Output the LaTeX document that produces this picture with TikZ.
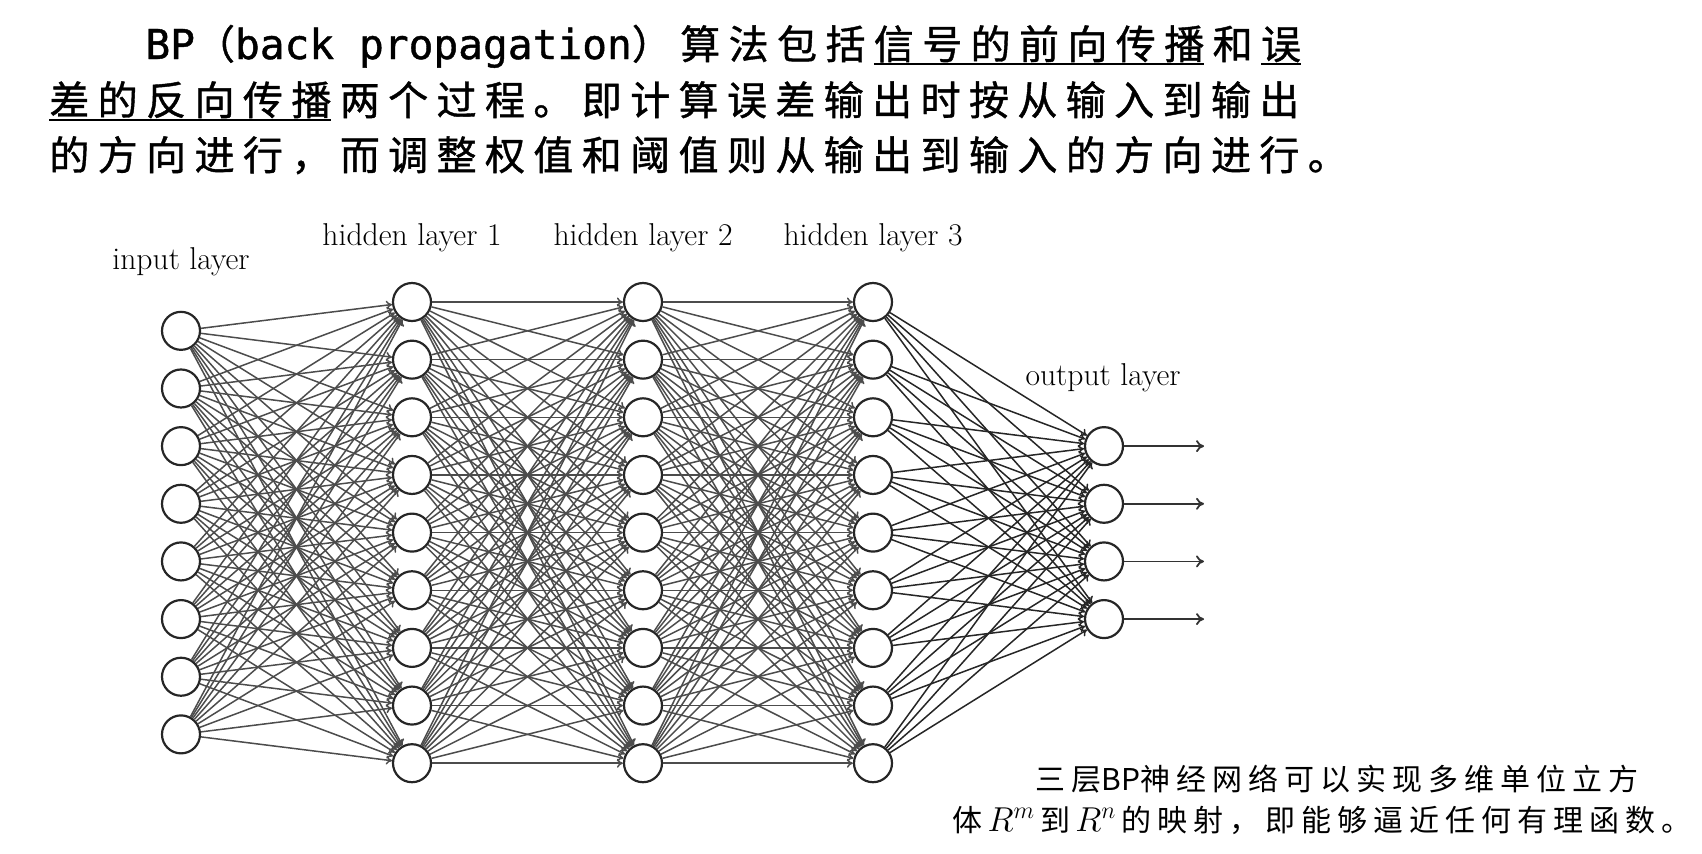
\documentclass[tikz,border=0pt]{standalone}
\usepackage{fontspec}
\usepackage{tikz}
\usetikzlibrary{arrows.meta}

\newfontfamily\zh[LetterSpace=21, FakeBold=1]{Noto Sans CJK SC}
\newfontfamily\zhcap[LetterSpace=20]{Noto Sans CJK SC}
\newfontfamily\zhlat{Noto Sans CJK SC}
\newfontfamily\lat[Scale=1.03, FakeBold=1]{DejaVu Sans Mono}
\newcommand\ulx[1]{\setbox0\hbox{#1}\rlap{\rule[-0.16em]{\wd0}{0.07em}}\box0\kern0.21em}
\newcommand\capmath[1]{\,\mbox{\fontsize{17pt}{20pt}\selectfont$#1$}\,}

\begin{document}
\begin{tikzpicture}[x=0.5pt, y=-0.5pt,
    neuron/.style={circle, draw=black!85, fill=white, line width=1.1pt, minimum size=19pt, inner sep=0pt},
    link/.style={-{To[length=3pt,width=4.5pt]}, draw=black!70, line width=0.75pt},
    layer label/.style={font=\fontsize{15.8pt}{19pt}\selectfont, anchor=base, inner sep=0pt},
    body text/.style={font=\zh\fontsize{20pt}{24pt}\selectfont, anchor=base west, inner sep=0pt},
    caption text/.style={font=\zhcap\fontsize{15pt}{18pt}\selectfont, anchor=base, inner sep=0pt}
]
    \useasboundingbox (0,0) rectangle (1702,853);

    % Texto
    \node[body text] (lineA) at (145, 59) {{\lat BP}（{\lat back propagation}）算法包括\kern0.21em\ulx{信号的前向传播}和\kern0.21em\ulx{误}};
    \node[body text] (lineB) at (49, 115) {\ulx{差的反向传播}两个过程。即计算误差输出时按从输入到输出};
    \node[body text] (lineC) at (49, 170) {的方向进行，而调整权值和阈值则从输出到输入的方向进行。};

    % Capa de entrada
    \foreach \i in {1,...,8}
        \node[neuron] (in\i) at (181, {302+(\i-0.5)*57.65}) {};

    % Capas ocultas
    \foreach \j in {1,...,9} {
        \node[neuron] (ha\j) at (412, {302+(\j-1)*57.65}) {};
        \node[neuron] (hb\j) at (643, {302+(\j-1)*57.65}) {};
        \node[neuron] (hc\j) at (873, {302+(\j-1)*57.65}) {};
    }

    % Capa de salida
    \foreach \k in {1,...,4} {
        \node[neuron] (out\k) at (1104, {302+(\k+1.5)*57.65}) {};
        \coordinate (y\k) at (1204, {302+(\k+1.5)*57.65});
    }

    % Etiquetas
    \node[layer label] (lbin) at (181, 269) {input layer};
    \node[layer label] (lbha) at (412, 245) {hidden layer 1};
    \node[layer label] (lbhb) at (643, 245) {hidden layer 2};
    \node[layer label] (lbhc) at (873, 245) {hidden layer 3};
    \node[layer label] (lbout) at (1103, 385) {output layer};

    % Conexiones
    \foreach \i in {1,...,8}
        \foreach \j in {1,...,9}
            \draw[link] (in\i) -- (ha\j);
    \foreach \i in {1,...,9}
        \foreach \j in {1,...,9} {
            \draw[link] (ha\i) -- (hb\j);
            \draw[link] (hb\i) -- (hc\j);
        }
    \foreach \i in {1,...,9}
        \foreach \k in {1,...,4}
            \draw[link, draw=black!85] (hc\i) -- (out\k);
    \foreach \k in {1,...,4}
        \draw[-{To[length=4pt,width=6pt]}, draw=black!80, line width=0.9pt] (out\k) -- (y\k);

    % Nota
    \node[caption text] (capA) at (1337, 790) {三层{\zhlat BP}神经网络可以实现多维单位立方};
    \node[caption text] (capB) at (1322, 831) {体\capmath{R^m}到\capmath{R^n}的映射，即能够逼近任何有理函数。};
\end{tikzpicture}
\end{document}
